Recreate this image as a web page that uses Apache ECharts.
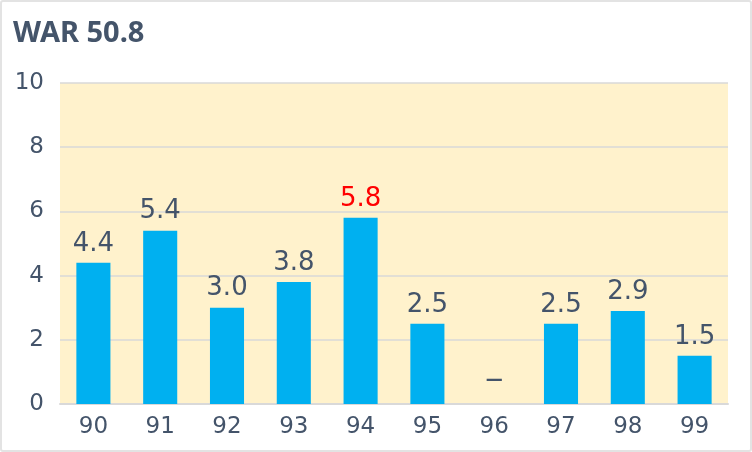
<!DOCTYPE html>
<html><head><meta charset="utf-8">
<script src="https://cdn.jsdelivr.net/npm/echarts@6/dist/echarts.min.js"></script>
<style>
html,body{margin:0;padding:0;background:#fff;}
#c{width:752px;height:452px;box-sizing:border-box;border:2px solid #e3e3e3;border-radius:3px;}
</style></head>
<body><div id="c"></div>
<script>
const titleText = 'WAR 50.8';
const categories = ['90','91','92','93','94','95','96','97','98','99'];
const warValues = [4.4, 5.4, 3.0, 3.8, 5.8, 2.5, 0, 2.5, 2.9, 1.5];
const missingCategory = '96';
const highlightCategory = '94';
const yTicks = {min: 0, max: 10, interval: 2};

const textColor = '#44546A';
const data = warValues.map((v, i) => {
  const item = {value: v};
  if (categories[i] === highlightCategory) item.label = {color: '#FF0000'};
  if (categories[i] === missingCategory) item.label = {distance: 15, fontSize: 17, fontWeight: 'bold'};
  return item;
});

const chart = echarts.init(document.getElementById('c'), null, {renderer: 'canvas'});
chart.setOption({
  animation: false,
  title: {
    text: titleText, left: 6, top: 12,
    textStyle: {fontFamily: 'Noto Sans', fontWeight: 'bold', fontSize: 29, color: textColor}
  },
  grid: {left: 58, right: 22, top: 81, bottom: 46, show: true, backgroundColor: '#FFF2CC', borderWidth: 0},
  xAxis: {
    type: 'category', data: categories,
    axisLine: {lineStyle: {color: '#D9D9D9', width: 2}},
    axisTick: {show: false},
    axisLabel: {fontFamily: 'DejaVu Sans', fontSize: 23, color: textColor, margin: 12}
  },
  yAxis: {
    type: 'value', min: yTicks.min, max: yTicks.max, interval: yTicks.interval,
    axisLine: {show: false}, axisTick: {show: false},
    splitLine: {lineStyle: {color: '#D9D9D9', width: 1.5}},
    axisLabel: {fontFamily: 'DejaVu Sans', fontSize: 23, color: textColor, margin: 16}
  },
  series: [{
    type: 'bar', data: data, barWidth: '51%',
    itemStyle: {color: '#00B0F0'},
    label: {
      show: true, position: 'top', distance: 6,
      fontFamily: 'DejaVu Sans', fontSize: 26, color: textColor,
      formatter: p => p.value === 0 ? '—' : p.value.toFixed(1)
    }
  }]
});
</script></body></html>
